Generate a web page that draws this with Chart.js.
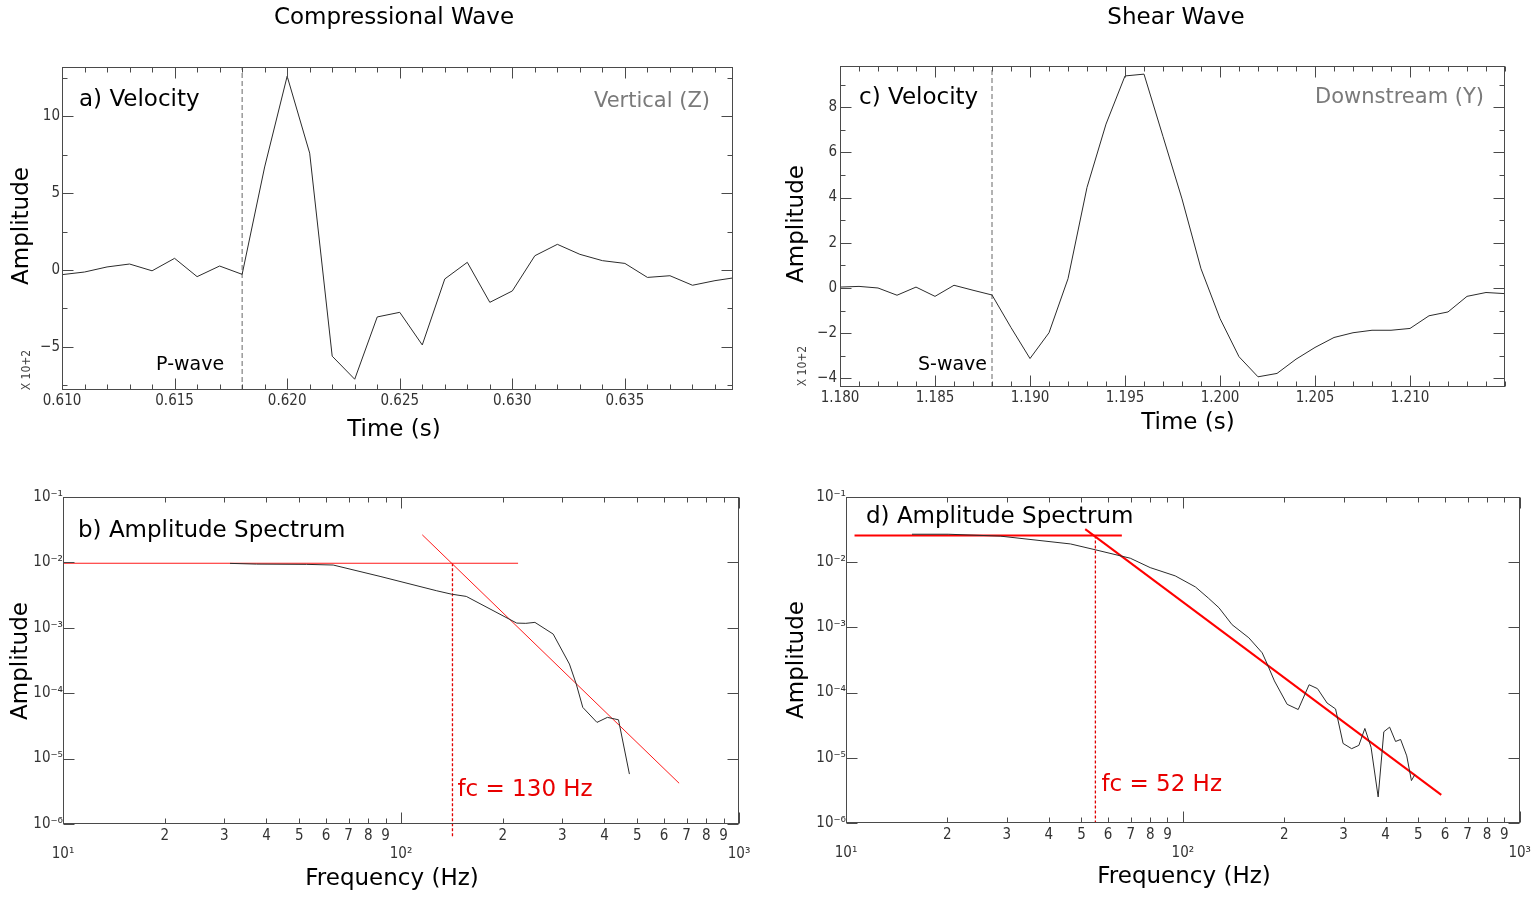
<!DOCTYPE html>
<html>
<head>
<meta charset="utf-8">
<script src="https://cdn.jsdelivr.net/npm/chart.js@4.4.1/dist/chart.umd.min.js"></script>
<style>
  body { margin: 0; background: #fff; }
  #figura { position: relative; width: 1534px; height: 897px; background: #fff; }
  #figura canvas { position: absolute; }
</style>
</head>
<body>
<div id="figura">
  <canvas id="pannelloA" width="767" height="450" style="left:0px;top:0px"></canvas>
  <canvas id="pannelloC" width="767" height="450" style="left:767px;top:0px"></canvas>
  <canvas id="pannelloB" width="767" height="447" style="left:0px;top:450px"></canvas>
  <canvas id="pannelloD" width="767" height="447" style="left:767px;top:450px"></canvas>
</div>
<script>
// ---- onda P: velocita' (x 10^2) ----
const pTime = [0.610, 0.611, 0.612, 0.613, 0.614, 0.615, 0.616, 0.617, 0.618, 0.619,
               0.620, 0.621, 0.622, 0.623, 0.624, 0.625, 0.626, 0.627, 0.628, 0.629,
               0.630, 0.631, 0.632, 0.633, 0.634, 0.635, 0.636, 0.637, 0.638, 0.639, 0.640];
const pVel = [-0.30, -0.13, 0.20, 0.39, -0.05, 0.76, -0.43, 0.26, -0.28, 6.7,
              12.6, 7.6, -5.6, -7.1, -3.05, -2.75, -4.87, -0.58, 0.50, -2.10,
              -1.36, 0.93, 1.67, 1.02, 0.61, 0.43, -0.48, -0.37, -0.99, -0.69, -0.47];
const pArrival = 0.618;
const pTimeLabels = ['0.610', '0.615', '0.620', '0.625', '0.630', '0.635'];
const pVelLabels = ['−5', '0', '5', '10'];

// ---- onda S: velocita' (x 10^2) ----
const sTime = [1.180, 1.181, 1.182, 1.183, 1.184, 1.185, 1.186, 1.187, 1.188, 1.189,
               1.190, 1.191, 1.192, 1.193, 1.194, 1.195, 1.196, 1.197, 1.198, 1.199,
               1.200, 1.201, 1.202, 1.203, 1.204, 1.205, 1.206, 1.207, 1.208, 1.209,
               1.210, 1.211, 1.212, 1.213, 1.214, 1.215];
const sVel = [0.04, 0.07, 0.00, -0.32, 0.04, -0.37, 0.12, -0.10, -0.31, -1.75,
              -3.12, -1.98, 0.41, 4.45, 7.25, 9.38, 9.46, 6.70, 3.94, 0.85,
              -1.35, -3.04, -3.93, -3.78, -3.15, -2.63, -2.19, -1.98, -1.87, -1.87,
              -1.79, -1.23, -1.06, -0.37, -0.20, -0.25];
const sArrival = 1.188;
const sTimeLabels = ['1.180', '1.185', '1.190', '1.195', '1.200', '1.205', '1.210'];
const sVelLabels = ['−4', '−2', '0', '2', '4', '6', '8'];

// ---- spettro onda P ----
const pFreq = [31.2, 37.4, 52.6, 63, 86.7, 127.6, 141, 156, 220, 234,
               249, 282, 315, 330, 345, 380, 408, 440, 474];
const pSpec = [0.00966, 0.00942, 0.00933, 0.00912, 0.00611, 0.00368, 0.00327, 0.00302, 0.00118, 0.00117,
               0.00121, 0.000802, 0.000279, 0.000138, 0.0000607, 0.0000358, 0.0000427, 0.0000392, 0.0000058];
const pFlatFreq = [10, 222];
const pFlatAmp = [0.0097, 0.0097];
const pSlopeFreq = [115.6, 665];
const pSlopeAmp = [0.0264, 0.0000042];
const pCorner = 142;

// ---- spettro onda S ----
const sFreq = [15.7, 20.1, 28.7, 46.4, 55, 69.8, 80, 94.9, 109, 119,
               128, 140, 157, 172, 178, 187, 204, 220, 237, 251,
               268, 284, 299, 317, 333, 347, 362, 380, 395, 411,
               428, 443, 462, 477, 488];
const sSpec = [0.02685, 0.02685, 0.02512, 0.01905, 0.01549, 0.01151, 0.00826, 0.00617, 0.00417, 0.00282,
               0.00200, 0.00110, 0.000692, 0.000407, 0.000275, 0.000151, 0.0000661, 0.0000550, 0.000132, 0.000115,
               0.0000692, 0.0000562, 0.0000166, 0.0000138, 0.0000155, 0.0000282, 0.0000145, 0.00000251, 0.0000251, 0.0000295,
               0.0000178, 0.0000191, 0.0000107, 0.00000447, 0.0000055];
const sFlatFreq = [10.6, 65.9];
const sFlatAmp = [0.0256, 0.0256];
const sSlopeFreq = [51.3, 585];
const sSlopeAmp = [0.0321, 0.0000027];
const sCorner = 55;

// etichette degli assi logaritmici
const freqMinorLabels = ['2', '3', '4', '5', '6', '7', '8', '9'];
const freqDecadeLabels = ['10¹', '10²', '10³'];
const ampDecadeLabels = ['10⁻⁶', '10⁻⁵', '10⁻⁴', '10⁻³', '10⁻²', '10⁻¹'];

Chart.defaults.font.family = "'DejaVu Sans'";
const fontTacche = { family: "'Liberation Sans Narrow', 'DejaVu Sans Condensed', 'Arial Narrow', sans-serif", size: 15 };
const fontStretto = "'Liberation Sans Narrow', 'DejaVu Sans Condensed', sans-serif";

// tacche lineari: maggiori sulle etichette, minori ogni "passo"
function tacceLineari(labels, passo) {
  const valori = labels.map(l => parseFloat(l.replace('−', '-')));
  const trova = v => valori.findIndex(m => Math.abs(m - v) < passo / 10);
  return {
    costruisci: function(scale) {
      const out = [];
      const n0 = Math.ceil(scale.min / passo - 1e-6), n1 = Math.floor(scale.max / passo + 1e-6);
      for (let n = n0; n <= n1; n++) {
        const v = n * passo;
        out.push({ value: v, major: trova(v) >= 0 });
      }
      scale.ticks = out;
    },
    etichetta: function(v) {
      const i = trova(v);
      return i >= 0 ? labels[i] : '';
    }
  };
}

function tacceFrequenza(scale) {
  const out = [];
  for (let e = 1; e <= 3; e++) {
    const d = Math.pow(10, e);
    out.push({ value: d, major: true });
    if (e < 3) for (let k = 2; k <= 9; k++) out.push({ value: k * d, major: false });
  }
  scale.ticks = out;
}
function etichettaFrequenza(v) {
  const e = Math.floor(Math.log10(v) + 1e-9);
  const k = Math.round(v / Math.pow(10, e));
  if (k === 1) return ['', freqDecadeLabels[e - 1]];
  return freqMinorLabels[k - 2];
}
function tacceAmpiezza(scale) {
  const out = [];
  for (let e = -6; e <= -1; e++) out.push({ value: Math.pow(10, e), major: true });
  scale.ticks = out;
}
function etichettaAmpiezza(v) {
  return ampDecadeLabels[Math.round(Math.log10(v)) + 6];
}

function asse(tipo, min, max, costruisci, etichetta, lato, misura, pad) {
  return {
    type: tipo, min: min, max: max, bounds: 'data',
    grid: { display: false, drawTicks: false },
    border: { display: false },
    afterBuildTicks: costruisci,
    afterFit: function(s) { if (lato === 'x') s.height = misura; else s.width = misura; },
    ticks: { autoSkip: false, maxRotation: 0, minRotation: 0, padding: pad, color: '#333', font: fontTacche, callback: etichetta }
  };
}

function linea(xs, ys, colore, spessore, tratteggio, noClip) {
  const ds = {
    data: xs.map((v, i) => ({ x: v, y: ys[i] })),
    showLine: true, borderColor: colore, borderWidth: spessore,
    borderDash: tratteggio || [], pointRadius: 0, fill: false, tension: 0
  };
  if (noClip) ds.clip = false;
  return ds;
}

// cornice con tacche rivolte verso l'interno + testi
function cornice(extra) {
  return {
    id: 'cornice',
    afterDraw: function(chart) {
      const ctx = chart.ctx, a = chart.chartArea, x = chart.scales.x, y = chart.scales.y;
      const L = Math.round(a.left) + 0.5, R = Math.round(a.right) - 0.5;
      const T = Math.round(a.top) + 0.5, B = Math.round(a.bottom) - 0.5;
      ctx.save();
      ctx.strokeStyle = '#4a4a4a';
      ctx.lineWidth = 1;
      ctx.strokeRect(L, T, R - L, B - T);
      ctx.beginPath();
      x.ticks.forEach(function(t) {
        const p = Math.round(x.getPixelForValue(t.value)) + 0.5;
        if (p < L - 1 || p > R + 1) return;
        const len = t.major ? 11 : 5;
        ctx.moveTo(p, B); ctx.lineTo(p, B - len);
        ctx.moveTo(p, T); ctx.lineTo(p, T + len);
      });
      y.ticks.forEach(function(t) {
        const p = Math.round(y.getPixelForValue(t.value)) + 0.5;
        if (p < T - 1 || p > B + 1) return;
        const len = t.major ? 11 : 5;
        ctx.moveTo(L, p); ctx.lineTo(L + len, p);
        ctx.moveTo(R, p); ctx.lineTo(R - len, p);
      });
      ctx.stroke();
      const testi = extra.testi.concat(extra.agganciati ? extra.agganciati(chart) : []);
      testi.forEach(function(t) {
        ctx.save();
        ctx.font = (t.size || 23) + 'px ' + (t.family || "'DejaVu Sans'");
        ctx.fillStyle = t.color || '#000';
        ctx.textAlign = t.align || 'center';
        ctx.textBaseline = 'middle';
        ctx.translate(t.x, t.y);
        if (t.rot) ctx.rotate(-Math.PI / 2);
        ctx.fillText(t.text, 0, 0);
        ctx.restore();
      });
      ctx.restore();
    }
  };
}

function creaPannello(id, cfg) {
  return new Chart(document.getElementById(id), {
    type: 'scatter',
    data: { datasets: cfg.datasets },
    options: {
      responsive: false, animation: false, events: [],
      layout: { padding: { top: cfg.top, right: cfg.right, bottom: 0, left: 0 } },
      plugins: { legend: { display: false }, tooltip: { enabled: false } },
      scales: { x: cfg.x, y: cfg.y }
    },
    plugins: [cornice(cfg)]
  });
}

// a) velocita' onda P
const tA = tacceLineari(pTimeLabels, 0.001), vA = tacceLineari(pVelLabels, 2.5);
const pVelMin = -7.8, pVelMax = 13.2;
creaPannello('pannelloA', {
  top: 67, right: 34,
  x: asse('linear', 0.610, 0.6398, tA.costruisci, tA.etichetta, 'x', 60, 2),
  y: asse('linear', pVelMin, pVelMax, vA.costruisci, vA.etichetta, 'y', 62, 2),
  datasets: [
    linea(pTime, pVel, '#2b2b2b', 1),
    linea([pArrival, pArrival], [pVelMin, pVelMax], '#666', 1, [5, 3])
  ],
  testi: [
    { text: 'Compressional Wave', x: 394, y: 18 },
    { text: 'Time (s)', x: 394, y: 430 },
    { text: 'Amplitude', x: 22, y: 226, rot: true },
    { text: 'a) Velocity', x: 79, y: 100, align: 'left' },
    { text: 'Vertical (Z)', x: 710, y: 102, align: 'right', color: '#7a7a7a', size: 21 },
    { text: 'X 10+2', x: 27, y: 370, rot: true, size: 12, family: fontStretto, color: '#444' }
  ],
  agganciati: function(chart) {
    return [{ text: 'P-wave', x: chart.scales.x.getPixelForValue(pArrival) - 18, y: 365, align: 'right', size: 19 }];
  }
});

// c) velocita' onda S
const tC = tacceLineari(sTimeLabels, 0.001), vC = tacceLineari(sVelLabels, 1);
const sVelMin = -4.38, sVelMax = 9.82;
creaPannello('pannelloC', {
  top: 66, right: 29,
  x: asse('linear', 1.180, 1.215, tC.costruisci, tC.etichetta, 'x', 63, 2),
  y: asse('linear', sVelMin, sVelMax, vC.costruisci, vC.etichetta, 'y', 73, 3),
  datasets: [
    linea(sTime, sVel, '#2b2b2b', 1),
    linea([sArrival, sArrival], [sVelMin, sVelMax], '#666', 1, [5, 3])
  ],
  testi: [
    { text: 'Shear Wave', x: 409, y: 18 },
    { text: 'Time (s)', x: 421, y: 423 },
    { text: 'Amplitude', x: 30.5, y: 224, rot: true },
    { text: 'c) Velocity', x: 92, y: 98, align: 'left' },
    { text: 'Downstream (Y)', x: 717, y: 98, align: 'right', color: '#7a7a7a', size: 21 },
    { text: 'X 10+2', x: 36, y: 366, rot: true, size: 12, family: fontStretto, color: '#444' }
  ],
  agganciati: function(chart) {
    return [{ text: 'S-wave', x: chart.scales.x.getPixelForValue(sArrival) - 5, y: 365, align: 'right', size: 19 }];
  }
});

// b) spettro onda P
creaPannello('pannelloB', {
  top: 47, right: 28,
  x: asse('logarithmic', 10, 1000, tacceFrequenza, etichettaFrequenza, 'x', 73, 3),
  y: asse('logarithmic', 1e-6, 1e-1, tacceAmpiezza, etichettaAmpiezza, 'y', 63, 0),
  datasets: [
    linea(pFreq, pSpec, '#2b2b2b', 1),
    linea(pFlatFreq, pFlatAmp, '#ff1a1a', 1),
    linea(pSlopeFreq, pSlopeAmp, '#ff1a1a', 1),
    linea([pCorner, pCorner], [pFlatAmp[0], 6.3e-7], '#e00000', 1.3, [3, 2], true)
  ],
  testi: [
    { text: 'Frequency (Hz)', x: 392, y: 429 },
    { text: 'Amplitude', x: 21, y: 211, rot: true },
    { text: 'b) Amplitude Spectrum', x: 78, y: 81, align: 'left' }
  ],
  agganciati: function(chart) {
    return [{ text: 'fc = 130 Hz', x: chart.scales.x.getPixelForValue(pCorner) + 5, y: 340, align: 'left', color: '#e80000' }];
  }
});

// d) spettro onda S
creaPannello('pannelloD', {
  top: 47, right: 14,
  x: asse('logarithmic', 10, 1000, tacceFrequenza, etichettaFrequenza, 'x', 74, 3),
  y: asse('logarithmic', 1e-6, 1e-1, tacceAmpiezza, etichettaAmpiezza, 'y', 79, 0),
  datasets: [
    linea(sFreq, sSpec, '#2b2b2b', 1),
    linea(sFlatFreq, sFlatAmp, '#ff0000', 2),
    linea(sSlopeFreq, sSlopeAmp, '#ff0000', 2),
    linea([sCorner, sCorner], [sFlatAmp[0], 1e-6], '#e00000', 1.3, [3, 2])
  ],
  testi: [
    { text: 'Frequency (Hz)', x: 417, y: 427 },
    { text: 'Amplitude', x: 30, y: 210, rot: true },
    { text: 'd) Amplitude Spectrum', x: 99, y: 67, align: 'left' }
  ],
  agganciati: function(chart) {
    return [{ text: 'fc = 52 Hz', x: chart.scales.x.getPixelForValue(sCorner) + 6, y: 335, align: 'left', color: '#e80000' }];
  }
});
</script>
</body>
</html>
